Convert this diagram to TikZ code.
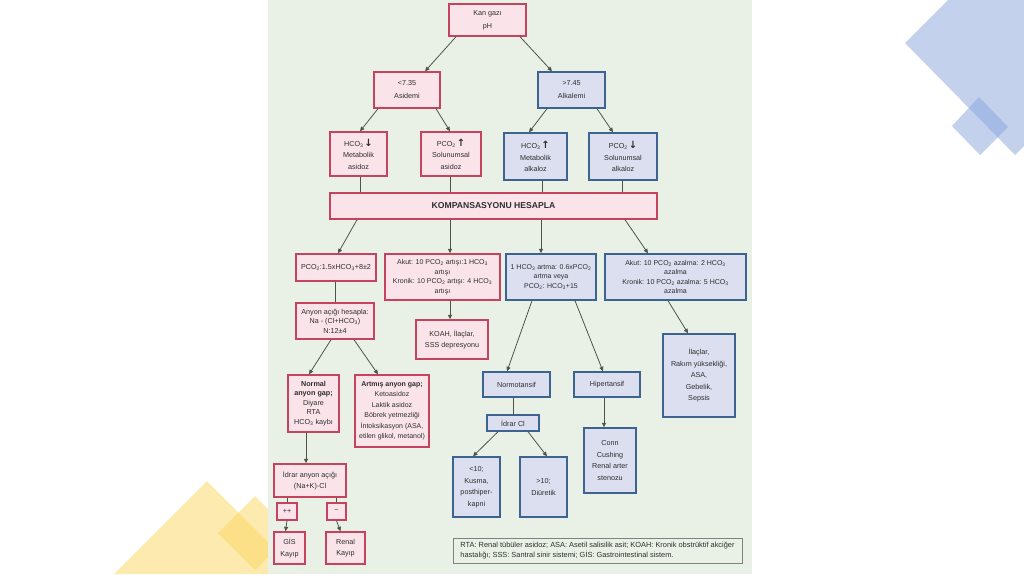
\documentclass[tikz,border=0pt]{standalone}
\usepackage{fontspec}
\setmainfont{Liberation Sans}
\newfontfamily\dv{DejaVu Sans}
\usetikzlibrary{arrows.meta,calc}
\definecolor{pnl}{HTML}{E9F1E6}
\definecolor{pinkf}{HTML}{FAE4EA}
\definecolor{pinkb}{HTML}{C4445F}
\definecolor{bluef}{HTML}{DCDFF0}
\definecolor{blueb}{HTML}{3D6391}
\definecolor{lnc}{HTML}{4A564C}
\definecolor{txt}{HTML}{2E2E2E}
\definecolor{dblue}{HTML}{89A5DD}
\definecolor{dyel}{HTML}{FBD761}
\newcommand{\up}{{\dv\bfseries\fontsize{10}{8}\selectfont\kern1pt↑}}
\newcommand{\dn}{{\dv\bfseries\fontsize{10}{8}\selectfont\kern1pt↓}}
\begin{document}
\begin{tikzpicture}[x=1pt,y=-1pt,
  boxbase/.style={align=center,inner sep=1pt,text=txt,line width=1.4pt,
    font=\fontsize{7.2}{9.6}\selectfont},
  pbox/.style={boxbase,draw=pinkb,fill=pinkf},
  bbox/.style={boxbase,draw=blueb,fill=bluef},
  wide/.style={font=\fontsize{7.2}{13}\selectfont},
  mid/.style={font=\fontsize{7.2}{11.5}\selectfont},
  con/.style={draw=lnc,line width=0.8pt},
  arr/.style={con,-{Triangle[length=4.5pt,width=4pt]}}]
\useasboundingbox (0,0) rectangle (1024,574);
\fill[white] (0,0) rectangle (1024,574);
% decorations
\fill[dblue,opacity=0.5] (905,43) -- (1015,155) -- (1130,40) -- (1020,-72) -- cycle;
\fill[dblue,opacity=0.5] (979,97) -- (1008,127) -- (980,155) -- (952,126) -- cycle;
\fill[dyel,opacity=0.5] (207,481) -- (300,574) -- (114,574) -- cycle;
\fill[dyel,opacity=0.5] (255,496) -- (292,533) -- (255,570) -- (218,533) -- cycle;
% panel
\fill[pnl] (268,0) rectangle (752,574);
% boxes
\node[pbox,wide,minimum width=77pt,minimum height=32pt] (kan) at (487.5,20) {Kan gazı\\pH};
\node[pbox,wide,minimum width=66pt,minimum height=36pt] (asid) at (407,90) {<7.35\\Asidemi};
\node[bbox,wide,minimum width=67pt,minimum height=36pt] (alk) at (571.5,90) {>7.45\\Alkalemi};
\node[pbox,mid,minimum width=57pt,minimum height=44pt] (hco3a) at (358.5,154) {HCO\textsubscript{3}\dn\\Metabolik\\asidoz};
\node[pbox,mid,minimum width=60pt,minimum height=44pt] (pco2a) at (451,154) {PCO\textsubscript{2}\up\\Solunumsal\\asidoz};
\node[bbox,mid,minimum width=63pt,minimum height=47pt] (hco3k) at (535.5,156.5) {HCO\textsubscript{3}\up\\Metabolik\\alkaloz};
\node[bbox,mid,minimum width=68pt,minimum height=47pt] (pco2k) at (623,156.5) {PCO\textsubscript{2}\dn\\Solunumsal\\alkaloz};
\node[pbox,minimum width=327pt,minimum height=26pt,font=\fontsize{8.6}{10}\selectfont\bfseries] (komp) at (493.5,206) {KOMPANSASYONU HESAPLA};
\node[pbox,minimum width=80pt,minimum height=27pt] (pco2f) at (336,267.5) {PCO\textsubscript{2}:1.5xHCO\textsubscript{3}+8±2};
\node[pbox,minimum width=115pt,minimum height=46pt,font=\fontsize{7}{9.6}\selectfont] (akutart) at (442.5,277) {Akut: 10 PCO\textsubscript{2} artışı:1 HCO\textsubscript{3}\\artışı\\Kronik: 10 PCO\textsubscript{2} artışı: 4 HCO\textsubscript{3}\\artışı};
\node[bbox,minimum width=90pt,minimum height=46pt,font=\fontsize{7}{9.6}\selectfont] (hcoart) at (551,277) {1 HCO\textsubscript{3} artma: 0.6xPCO\textsubscript{2}\\artma veya\\PCO\textsubscript{2}: HCO\textsubscript{3}+15};
\node[bbox,minimum width=141pt,minimum height=46pt,font=\fontsize{7}{9.6}\selectfont] (akutaz) at (675.5,277) {Akut: 10 PCO\textsubscript{2} azalma: 2 HCO\textsubscript{3}\\azalma\\Kronik: 10 PCO\textsubscript{2} azalma: 5 HCO\textsubscript{3}\\azalma};
\node[pbox,minimum width=78pt,minimum height=36pt] (anyon) at (335,321) {Anyon açığı hesapla:\\Na - (Cl+HCO\textsubscript{3})\\N:12±4};
\node[pbox,mid,minimum width=72pt,minimum height=39pt] (koah) at (452,339.5) {KOAH, İlaçlar,\\SSS depresyonu};
\node[bbox,mid,minimum width=72pt,minimum height=83pt] (ilac) at (699,375.5) {İlaçlar,\\Rakım yüksekliği,\\ASA,\\Gebelik,\\Sepsis};
\node[pbox,minimum width=51pt,minimum height=57pt] (normal) at (313.5,403.5) {\textbf{Normal}\\\textbf{anyon gap;}\\Diyare\\RTA\\HCO\textsubscript{3} kaybı};
\node[pbox,minimum width=74pt,minimum height=72pt,font=\fontsize{7}{10.5}\selectfont] (artmis) at (392,411) {\textbf{Artmış anyon gap;}\\Ketoasidoz\\Laktik asidoz\\Böbrek yetmezliği\\İntoksikasyon (ASA,\\etilen glikol, metanol)};
\node[bbox,minimum width=67pt,minimum height=25pt] (normo) at (516.5,384.5) {Normotansif};
\node[bbox,minimum width=66pt,minimum height=25pt] (hiper) at (607,384.5) {Hipertansif};
\node[bbox,minimum width=52pt,minimum height=16pt] (idrarcl) at (513,423) {İdrar Cl};
\node[bbox,mid,minimum width=47pt,minimum height=60pt] (lt10) at (476.5,487) {<10;\\Kusma,\\posthiper-\\kapni};
\node[bbox,mid,minimum width=47pt,minimum height=60pt] (gt10) at (543.5,487) {>10;\\Diüretik};
\node[bbox,mid,minimum width=52pt,minimum height=65pt] (conn) at (610,460.5) {Conn\\Cushing\\Renal arter\\stenozu};
\node[pbox,mid,minimum width=72pt,minimum height=33pt] (idrara) at (310,480.5) {İdrar anyon açığı\\(Na+K)-Cl};
\node[pbox,minimum width=20pt,minimum height=17pt] (pp) at (287,511.5) {++};
\node[pbox,minimum width=19pt,minimum height=17pt] (mm) at (336.5,511.5) {−};
\node[pbox,mid,minimum width=31pt,minimum height=32pt] (gis) at (289.5,548) {GİS\\Kayıp};
\node[pbox,mid,minimum width=39pt,minimum height=32pt] (renal) at (345.5,548) {Renal\\Kayıp};
\node[draw=gray,line width=0.9pt,minimum width=289pt,minimum height=25pt,align=left,text=txt,
  font=\fontsize{7.4}{9.6}\selectfont,inner sep=2pt] (leg) at (597.5,550.5)
  {RTA: Renal tübüler asidoz; ASA: Asetil salisilik asit; KOAH: Kronik obstrüktif akciğer\\hastalığı; SSS: Santral sinir sistemi; GİS: Gastrointestinal sistem.};
% connectors
\draw[arr] ([xshift=-31.5pt]kan.south) -- ([xshift=18pt]asid.north);
\draw[arr] ([xshift=32.5pt]kan.south) -- ([xshift=-19.5pt]alk.north);
\draw[arr] ([xshift=-29pt]asid.south) -- ([xshift=1.5pt]hco3a.north);
\draw[arr] ([xshift=29pt]asid.south) -- ([xshift=-1pt]pco2a.north);
\draw[arr] ([xshift=-24.5pt]alk.south) -- ([xshift=-6.5pt]hco3k.north);
\draw[arr] ([xshift=25.5pt]alk.south) -- ([xshift=-10pt]pco2k.north);
\draw[con] ([xshift=1.5pt]hco3a.south) -- ([xshift=1.5pt]hco3a.south |- komp.north);
\draw[con] ([xshift=-1pt]pco2a.south) -- ([xshift=-1pt]pco2a.south |- komp.north);
\draw[con] ([xshift=6.5pt]hco3k.south) -- ([xshift=6.5pt]hco3k.south |- komp.north);
\draw[con] ([xshift=-1pt]pco2k.south) -- ([xshift=-1pt]pco2k.south |- komp.north);
\draw[arr] ([xshift=-136.5pt]komp.south) -- ([xshift=2pt]pco2f.north);
\draw[arr] ([xshift=7.5pt]akutart.north |- komp.south) -- ([xshift=7.5pt]akutart.north);
\draw[arr] ([xshift=-10pt]hcoart.north |- komp.south) -- ([xshift=-10pt]hcoart.north);
\draw[arr] ([xshift=131.5pt]komp.south) -- ([xshift=-27.5pt]akutaz.north);
\draw[con] ([xshift=-1pt]pco2f.south) -- ([xshift=-1pt]pco2f.south |- anyon.north);
\draw[arr] ([xshift=-2pt]koah.north |- akutart.south) -- ([xshift=-2pt]koah.north);
\draw[arr] ([xshift=-19pt]hcoart.south) -- ([xshift=-9.5pt]normo.north);
\draw[arr] ([xshift=24pt]hcoart.south) -- ([xshift=-4pt]hiper.north);
\draw[arr] ([xshift=-7.5pt]akutaz.south) -- ([xshift=-11pt]ilac.north);
\draw[arr] ([xshift=-4pt]anyon.south) -- ([xshift=-4.5pt]normal.north);
\draw[arr] ([xshift=19pt]anyon.south) -- ([xshift=-14pt]artmis.north);
\draw[con] ([xshift=-3.5pt]normo.south) -- ([xshift=-3.5pt]normo.south |- idrarcl.north);
\draw[arr] ([xshift=-3pt]hiper.south) -- ([xshift=-3pt]hiper.south |- conn.north);
\draw[arr] ([xshift=-15pt]idrarcl.south) -- ([xshift=-3.5pt]lt10.north);
\draw[arr] ([xshift=15pt]idrarcl.south) -- ([xshift=3.5pt]gt10.north);
\draw[arr] ([xshift=-7.5pt]normal.south) -- ([xshift=-7.5pt]normal.south |- idrara.north);
\draw[con] (pp.north |- idrara.south) -- (pp.north);
\draw[con] (mm.north |- idrara.south) -- (mm.north);
\draw[arr] (pp.south) -- ([xshift=-4pt]gis.north);
\draw[arr] (mm.south) -- ([xshift=-5pt]renal.north);
\end{tikzpicture}
\end{document}
